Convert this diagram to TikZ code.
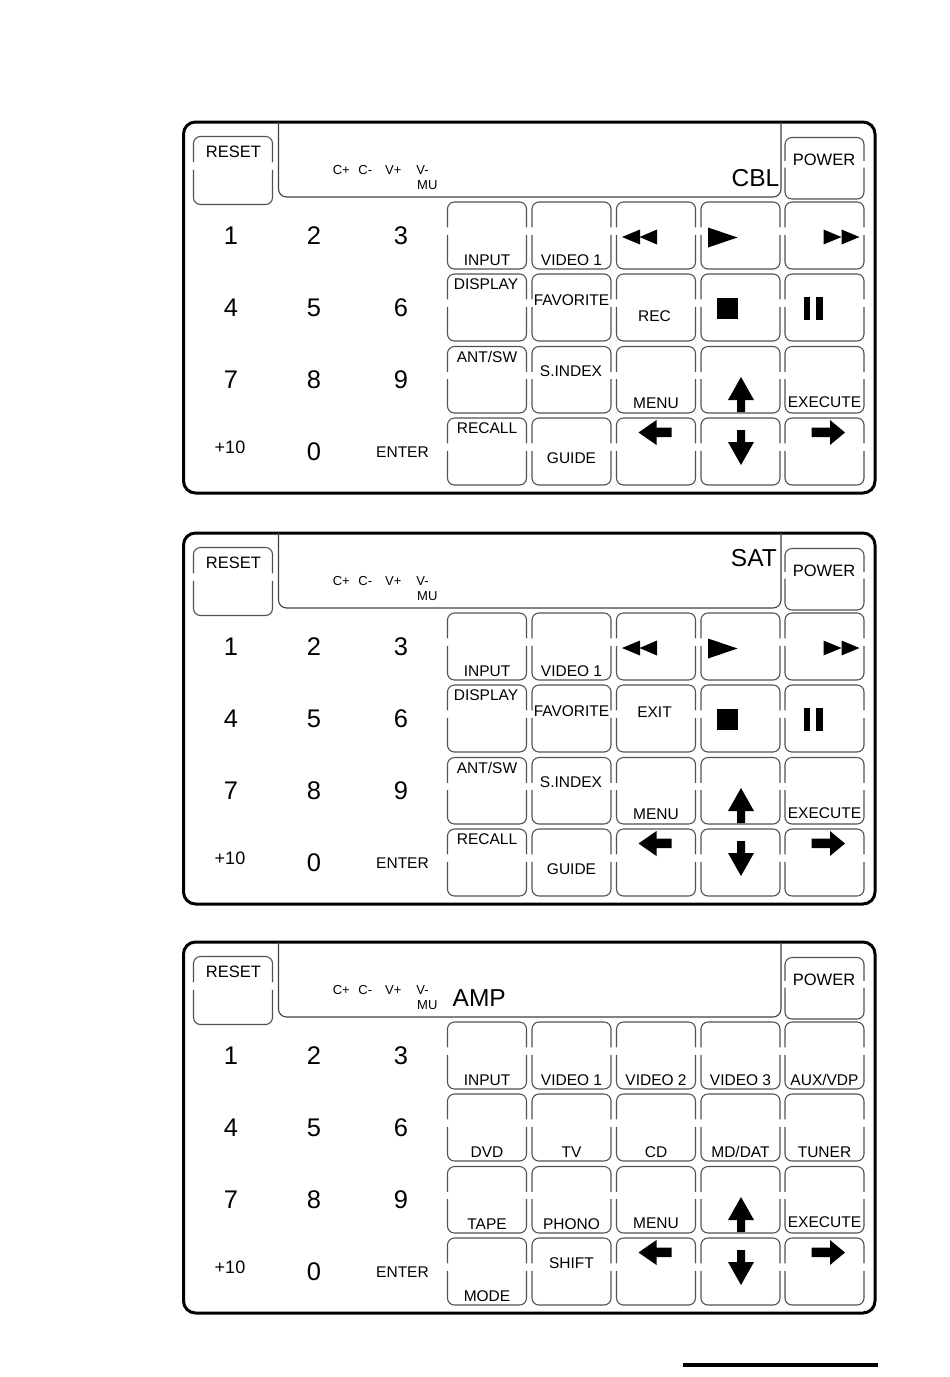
\documentclass[tikz,border=0pt]{standalone}
\usepackage{fontspec}
\setmainfont{Liberation Sans}
\tikzset{
  panelbox/.style={draw=black, line width=3pt, rounded corners=12pt},
  displine/.style={draw=black!75, line width=1.1pt, rounded corners=8pt},
  btnline/.style={draw=black!68, line width=1.1pt, rounded corners=7pt},
  lbl/.style={inner sep=0pt, anchor=base, font=\fontsize{15.5}{18}\selectfont},
  biglab/.style={inner sep=0pt, anchor=base, font=\fontsize{16.5}{19}\selectfont},
  smalllab/.style={inner sep=0pt, anchor=base, font=\fontsize{13}{15}\selectfont},
  digit/.style={inner sep=0pt, font=\fontsize{25.5}{28}\selectfont},
  plusten/.style={inner sep=0pt, anchor=base, font=\fontsize{18}{20}\selectfont},
  displab/.style={inner sep=0pt, font=\fontsize{24.5}{27}\selectfont},
  sym/.style={fill=black, draw=none}
}
% button outline with small gaps in the side lines: x1 y1 x2 y2
\newcommand\rcbtn[4]{%
  \draw[btnline] (#1,{#2+0.38*(#4-#2)}) -- (#1,#2) -- (#3,#2) -- (#3,{#2+0.38*(#4-#2)});
  \draw[btnline] (#1,{#2+0.49*(#4-#2)}) -- (#1,#4) -- (#3,#4) -- (#3,{#2+0.49*(#4-#2)});
}
\newcommand\pnlcommon[1]{%
  \draw[panelbox] (183.5,122) rectangle (875,493);
  \draw[displine] (278.5,122) -- (278.5,197) -- (781,197) -- (781,122);
  \rcbtn{193.5}{136.5}{272.5}{204.5}
  \rcbtn{785}{137.5}{864}{199}
  \node[biglab] (#1-reset) at (233.5,157.7) {RESET};
  \node[biglab] (#1-power) at (824,165.7) {POWER};
  \node[smalllab] (#1-cp) at (341.3,174.5) {C+};
  \node[smalllab] (#1-cm) at (365.3,174.5) {C-};
  \node[smalllab] (#1-vp) at (393.3,174.5) {V+};
  \node[smalllab] (#1-vm) at (422.5,174.5) {V-};
  \node[smalllab] (#1-mu) at (427.3,189) {MU};
  \foreach \xa/\xb in {447.5/526.5, 532/611, 616.5/695.5, 701/780, 785/864}
    \foreach \ya/\yb in {202/269, 274/341, 346.5/413, 418/485}
      {\rcbtn{\xa}{\ya}{\xb}{\yb}}
  \foreach \t/\x/\y [count=\i] in {1/231/235.5, 2/314/235.5, 3/401/235.5,
      4/231/307.5, 5/314/307.5, 6/401/307.5, 7/231/379.3, 8/314/379.3, 9/401/379.3}
    {\node[digit] (#1-d\i) at (\x,\y) {\t};}
  \node[plusten] (#1-p10) at (230,453.3) {+10};
  \node[digit] (#1-d0) at (314,451.7) {0};
  \node[lbl] (#1-enter) at (402.5,457.3) {ENTER};
  \node[lbl] (#1-input) at (487,265.5) {INPUT};
  \node[lbl] (#1-video1) at (571.5,265.5) {VIDEO 1};
  \node[lbl] (#1-menu) at (656,408.5) {MENU};
  \node[lbl] (#1-execute) at (824.5,407.5) {EXECUTE};
  % arrows
  \fill[sym] (741,377) -- (754,400) -- (745,400) -- (745,412) -- (737,412) -- (737,400) -- (728,400) -- cycle;
  \fill[sym] (741,465) -- (754,442) -- (745,442) -- (745,430) -- (737,430) -- (737,442) -- (728,442) -- cycle;
  \fill[sym] (638.5,432.5) -- (656.5,420) -- (656.5,427.5) -- (671.5,427.5) -- (671.5,437) -- (656.5,437) -- (656.5,445) -- cycle;
  \fill[sym] (845,432.5) -- (830,420) -- (830,427.5) -- (811.5,427.5) -- (811.5,437) -- (830,437) -- (830,445) -- cycle;
}
\newcommand\pnlvideo[1]{%
  \fill[sym] (622,237) -- (640,229.5) -- (640,244.5) -- cycle;
  \fill[sym] (639.5,237) -- (657,229.5) -- (657,244.5) -- cycle;
  \fill[sym] (737.5,237.5) -- (708,227.5) -- (708,247.5) -- cycle;
  \fill[sym] (823.5,229.5) -- (841.5,237) -- (823.5,244.5) -- cycle;
  \fill[sym] (841.5,229.5) -- (859.5,237) -- (841.5,244.5) -- cycle;
  \fill[sym] (716.5,297.5) rectangle (737.5,319);
  \fill[sym] (803.5,296.5) rectangle (810,320);
  \fill[sym] (816,296.5) rectangle (822.5,320);
  \node[lbl] (#1-display) at (486,289.5) {DISPLAY};
  \node[lbl] (#1-favorite) at (571.5,305) {FAVORITE};
  \node[lbl] (#1-antsw) at (487,362.5) {ANT/SW};
  \node[lbl] (#1-sindex) at (571,376.7) {S.INDEX};
  \node[lbl] (#1-recall) at (487,433.5) {RECALL};
  \node[lbl] (#1-guide) at (571.5,463.3) {GUIDE};
}
\begin{document}
\begin{tikzpicture}[x=1pt,y=-1pt]
  \useasboundingbox (0,0) rectangle (950,1377);
  % panel 1 : CBL
  \begin{scope}
    \pnlcommon{p1}
    \pnlvideo{p1}
    \node[lbl] (p1-rec) at (654.5,321.5) {REC};
    \node[displab, anchor=base east] (p1-cbl) at (779.5,186.7) {CBL};
  \end{scope}
  % panel 2 : SAT
  \begin{scope}[shift={(0,411)}]
    \pnlcommon{p2}
    \pnlvideo{p2}
    \node[lbl] (p2-exit) at (654.5,306) {EXIT};
    \node[displab, anchor=base east] (p2-sat) at (777,155) {SAT};
  \end{scope}
  % panel 3 : AMP
  \begin{scope}[shift={(0,820)}]
    \pnlcommon{p3}
    \node[displab, anchor=base west] (p3-amp) at (452.5,186.7) {AMP};
    \node[lbl] (p3-video2) at (656,265.5) {VIDEO 2};
    \node[lbl] (p3-video3) at (740.5,265.5) {VIDEO 3};
    \node[lbl] (p3-aux) at (824.5,265.5) {AUX/VDP};
    \node[lbl] (p3-dvd) at (487,337.5) {DVD};
    \node[lbl] (p3-tv) at (571.5,337.5) {TV};
    \node[lbl] (p3-cd) at (656,337.5) {CD};
    \node[lbl] (p3-md) at (740.5,337.5) {MD/DAT};
    \node[lbl] (p3-tuner) at (824.5,337.5) {TUNER};
    \node[lbl] (p3-tape) at (487,409.5) {TAPE};
    \node[lbl] (p3-phono) at (571.5,409.5) {PHONO};
    \node[lbl] (p3-mode) at (487,481.5) {MODE};
    \node[lbl] (p3-shift) at (571.5,448.3) {SHIFT};
  \end{scope}
  % rule at the foot of the page
  \coordinate (ruleL) at (683,1365);
  \coordinate (ruleR) at (878,1365);
  \draw[line width=3.5pt] (ruleL) -- (ruleR);
\end{tikzpicture}
\end{document}
